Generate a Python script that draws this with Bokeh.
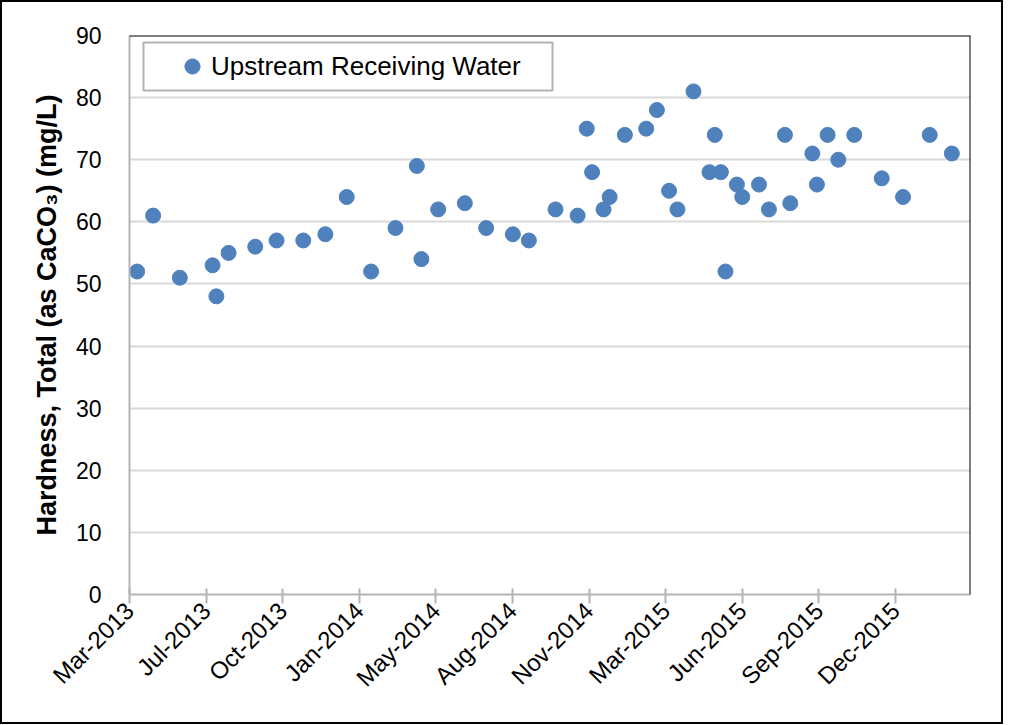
from datetime import datetime, timedelta
from bokeh.plotting import figure
from bokeh.models import (FixedTicker, DatetimeTickFormatter, Span, Legend, LegendItem,
                          ColumnDataSource, BoxAnnotation)
from bokeh.embed import file_html
from bokeh.resources import INLINE

# ---- data ----
SAMPLE_DATES = [
    "2013-04-10", "2013-05-01", "2013-06-05", "2013-07-18", "2013-07-23", "2013-08-08",
    "2013-09-12", "2013-10-10", "2013-11-14", "2013-12-13", "2014-01-10", "2014-02-11",
    "2014-03-15", "2014-04-12", "2014-04-18", "2014-05-10", "2014-06-14", "2014-07-12",
    "2014-08-16", "2014-09-06", "2014-10-11", "2014-11-09", "2014-11-21", "2014-11-28",
    "2014-12-13", "2014-12-21", "2015-01-10", "2015-02-07", "2015-02-21", "2015-03-09",
    "2015-03-20", "2015-04-10", "2015-05-01", "2015-05-08", "2015-05-16", "2015-05-22",
    "2015-06-06", "2015-06-13", "2015-07-05", "2015-07-18", "2015-08-08", "2015-08-15",
    "2015-09-13", "2015-09-19", "2015-10-03", "2015-10-17", "2015-11-07", "2015-12-13",
    "2016-01-10", "2016-02-14", "2016-03-14",
]
HARDNESS = [
    52, 61, 51, 53, 48, 55, 56, 57, 57, 58, 64, 52, 59, 69, 54, 62, 63, 59, 58, 57,
    62, 61, 75, 68, 62, 64, 74, 75, 78, 65, 62, 81, 68, 74, 68, 52, 66, 64, 66, 62,
    74, 63, 71, 66, 74, 70, 74, 67, 64, 74, 71,
]
SERIES_NAME = "Upstream Receiving Water"
TICK_LABELS = ["Mar-2013", "Jul-2013", "Oct-2013", "Jan-2014", "May-2014", "Aug-2014",
               "Nov-2014", "Mar-2015", "Jun-2015", "Sep-2015", "Dec-2015"]
AXIS_START = "2013-03-31"
TICK_STEP_DAYS = 100.5
AXIS_SPAN_DAYS = 1103.5
Y_TICKS = [0, 10, 20, 30, 40, 50, 60, 70, 80, 90]

FONT = "Liberation Sans"
BLUE = "#4f81bd"

FRAME_W, FRAME_H = 841, 559

x0 = datetime.strptime(AXIS_START, "%Y-%m-%d")
x1 = x0 + timedelta(days=AXIS_SPAN_DAYS)

def ms(d):
    return (d - datetime(1970, 1, 1)).total_seconds() * 1000.0

tick_ms = [ms(x0 + timedelta(days=i * TICK_STEP_DAYS)) for i in range(len(TICK_LABELS))]

src = ColumnDataSource(dict(
    x=[datetime.strptime(d, "%Y-%m-%d") for d in SAMPLE_DATES],
    y=HARDNESS,
))

p = figure(
    frame_width=FRAME_W, frame_height=FRAME_H,
    x_axis_type="datetime",
    x_range=(x0, x1), y_range=(0, 90),
    output_backend="svg", toolbar_location=None,
    min_border_left=127, min_border_right=31, min_border_top=33, min_border_bottom=128,
)
p.styles = {"border": "2px solid black"}
p.outline_line_color = None
p.background_fill_color = "white"
p.border_fill_color = "white"

r = p.scatter("x", "y", source=src, size=15, color=BLUE, line_color=BLUE)

# frame top and right borders
p.add_layout(Span(location=90, dimension="width", line_color="black", line_width=2))
p.add_layout(Span(location=ms(x1), dimension="height", line_color="black", line_width=2))

# x axis
xa = p.xaxis[0]
xa.ticker = FixedTicker(ticks=tick_ms, minor_ticks=[])
xa.formatter = DatetimeTickFormatter(months="%b-%Y", days="%b-%Y", years="%b-%Y")
xa.major_label_overrides = {t: lab for t, lab in zip(tick_ms, TICK_LABELS)}
xa.major_label_orientation = 0.785398
xa.major_label_text_font = FONT
xa.major_label_text_font_size = "24px"
xa.major_label_text_color = "black"
xa.axis_line_color = "#b3b3b3"
xa.axis_line_width = 2
xa.major_tick_line_color = "#b3b3b3"
xa.major_tick_line_width = 2
xa.major_tick_in = 6
xa.major_tick_out = 9
xa.minor_tick_line_color = None
xa.major_label_standoff = 3

# y axis
ya = p.yaxis[0]
ya.ticker = FixedTicker(ticks=Y_TICKS)
ya.major_label_text_font = FONT
ya.major_label_text_font_size = "23px"
ya.major_label_text_color = "black"
ya.axis_line_color = "#b3b3b3"
ya.axis_line_width = 2
ya.major_tick_line_color = None
ya.minor_tick_line_color = None
ya.major_label_standoff = 22
ya.axis_label = "Hardness, Total (as CaCO\u2083) (mg/L)"
ya.axis_label_text_font = FONT
ya.axis_label_text_font_style = "bold"
ya.axis_label_text_font_size = "27px"
ya.axis_label_text_color = "black"
ya.axis_label_standoff = 11

p.xgrid.grid_line_color = None
p.ygrid.grid_line_color = "#d9d9d9"
p.ygrid.grid_line_width = 2
p.ygrid.ticker = FixedTicker(ticks=Y_TICKS)

# legend frame (screen units relative to plot frame)
p.add_layout(BoxAnnotation(
    left=14, right=423, top=FRAME_H - 7, bottom=FRAME_H - 55,
    left_units="screen", right_units="screen", top_units="screen", bottom_units="screen",
    fill_color="white", fill_alpha=1.0, line_color="black", line_width=2,
))

legend = Legend(
    items=[LegendItem(label=SERIES_NAME, renderers=[r])],
    location=(44, FRAME_H - 50),
    margin=0,
    padding=0,
    glyph_width=38, glyph_height=38,
    label_height=38, label_standoff=0,
    label_text_font=FONT, label_text_font_size="26px", label_text_color="black",
    border_line_color=None,
    background_fill_alpha=0.0,
)
p.add_layout(legend)

open("out.html", "w").write(file_html(p, INLINE))
